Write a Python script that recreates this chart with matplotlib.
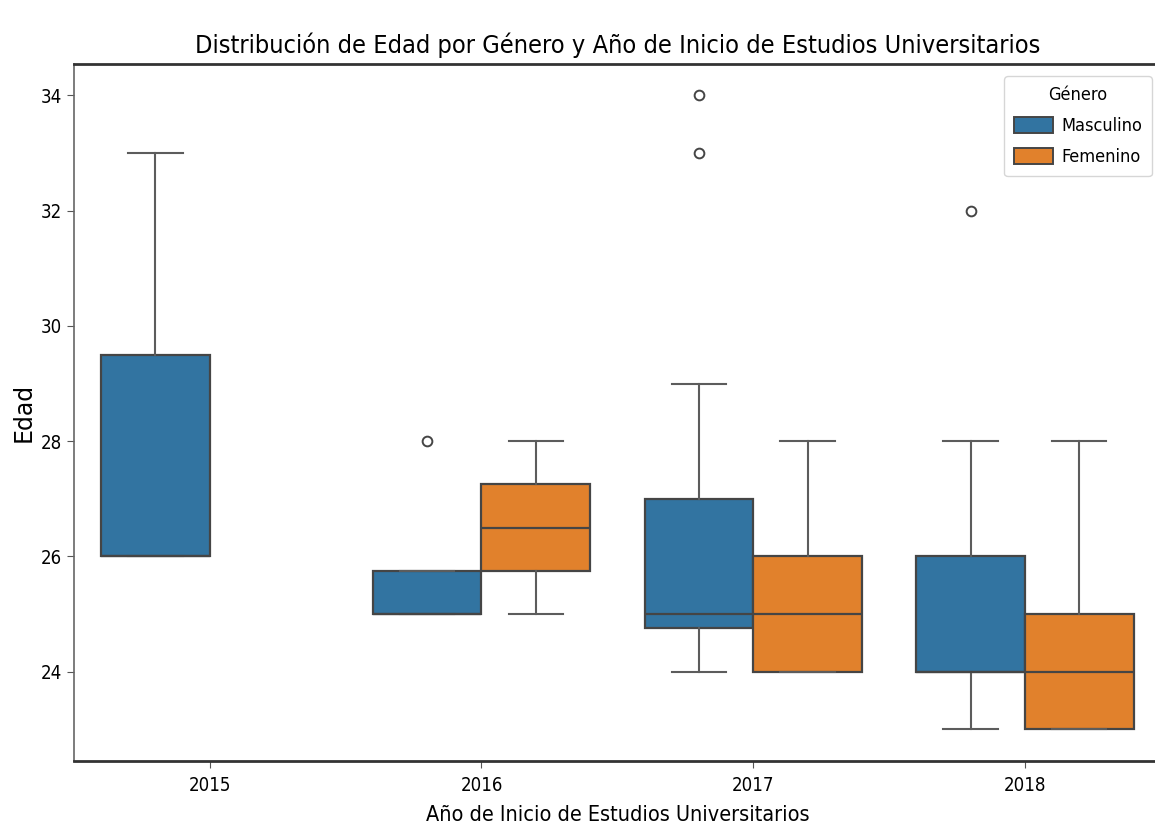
import numpy as np
import matplotlib
matplotlib.use("Agg")
import matplotlib.pyplot as plt
from matplotlib.patches import Patch

# quartiles (one value per year, nan = no data)
years = ['2015', '2016', '2017', '2018']
genders = ['Masculino', 'Femenino']

masc_q1 = [26, 25, 24.75, 24]
masc_med = [26, 25, 25, 24]
masc_q3 = [29.5, 25.75, 27, 26]
masc_lo = [26, 25, 24, 23]
masc_hi = [33, 25.75, 29, 28]
masc_fliers = [[], [28], [33, 34], [32]]

fem_q1 = [np.nan, 25.75, 24, 23]
fem_med = [np.nan, 26.5, 25, 24]
fem_q3 = [np.nan, 27.25, 26, 25]
fem_lo = [np.nan, 25, 24, 23]
fem_hi = [np.nan, 28, 28, 28]
fem_fliers = [[], [], [], []]

colors = ['#3274a1', '#e1812c']
line_c = '#454545'

plt.rcParams['font.family'] = ['DejaVu Sans Condensed', 'DejaVu Sans']
plt.rcParams['font.stretch'] = 'condensed'

fig = plt.figure(figsize=(11.55, 8.39), dpi=100)
ax = fig.add_axes([0.064, 0.093, 0.941, 0.831])


def make_stats(q1, med, q3, lo, hi, fl):
    out = []
    for i in range(len(q1)):
        if np.isnan(q1[i]):
            continue
        out.append((i, dict(q1=q1[i], med=med[i], q3=q3[i], whislo=lo[i],
                            whishi=hi[i], fliers=fl[i])))
    return out


groups = [make_stats(masc_q1, masc_med, masc_q3, masc_lo, masc_hi, masc_fliers),
          make_stats(fem_q1, fem_med, fem_q3, fem_lo, fem_hi, fem_fliers)]
offsets = [-0.2, 0.2]

for g, stats in enumerate(groups):
    pos = [i + offsets[g] for i, _ in stats]
    ax.bxp([s for _, s in stats], positions=pos, widths=0.4, patch_artist=True,
           capwidths=0.2, manage_ticks=False,
           boxprops=dict(facecolor=colors[g], edgecolor=line_c, linewidth=1.6),
           medianprops=dict(color=line_c, linewidth=1.6),
           whiskerprops=dict(color='#5c5c5c', linewidth=1.5),
           capprops=dict(color='#5c5c5c', linewidth=1.5),
           flierprops=dict(marker='o', markerfacecolor='none',
                           markeredgecolor=line_c, markersize=7,
                           markeredgewidth=1.4))

ax.set_xlim(-0.5, 3.5)
ax.set_ylim(22.45, 34.55)
ax.set_xticks(range(len(years)))
ax.set_xticklabels(years)
ax.set_yticks([24, 26, 28, 30, 32, 34])
ax.tick_params(labelsize=13.4, length=5, color='#555555')
ax.tick_params(axis='x', pad=6)

for side in ['top', 'bottom']:
    ax.spines[side].set_linewidth(2.0)
    ax.spines[side].set_color('#333333')
for side in ['left', 'right']:
    ax.spines[side].set_linewidth(1.2)
    ax.spines[side].set_color('#666666')

ax.set_title('Distribución de Edad por Género y Año de Inicio de Estudios Universitarios',
             fontsize=18.2, pad=8)
ax.set_xlabel('Año de Inicio de Estudios Universitarios', fontsize=15.5, labelpad=7)
ax.set_ylabel('Edad', fontsize=17, family='DejaVu Sans', fontstretch='normal', labelpad=4)

handles = [Patch(facecolor=colors[i], edgecolor=line_c, linewidth=1.4) for i in range(2)]
leg = ax.legend(handles, genders, title='Género', loc='upper right',
                bbox_to_anchor=(0.9917, 0.982), borderaxespad=0,
                fontsize=13, title_fontsize=13, frameon=True,
                handlelength=2.15, handleheight=1.0, handletextpad=0.45,
                labelspacing=0.72, borderpad=0.55)
leg.get_frame().set_edgecolor('#cccccc')
leg._legend_box.sep = 9

fig.savefig('out.png', dpi=100)
